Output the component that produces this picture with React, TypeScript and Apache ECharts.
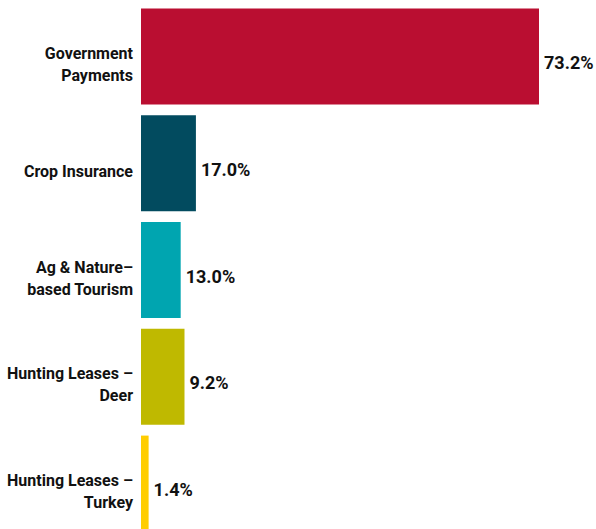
import React, { useEffect, useRef } from "react";
import * as echarts from "echarts";

const categories = [
  "Government\nPayments",
  "Crop Insurance",
  "Ag & Nature–\nbased Tourism",
  "Hunting Leases –\nDeer",
  "Hunting Leases –\nTurkey",
];
// bar lengths as drawn in the picture (scale: 73.2 = full bar)
const barValues = [73.2, 10.1, 7.3, 8.0, 1.4];
// printed value labels
const valueLabels = ["73.2%", "17.0%", "13.0%", "9.2%", "1.4%"];
const colors = ["#BA0E31", "#024B5F", "#00A5B0", "#BFB900", "#FFCD00"];

const FONT = "Roboto, 'DejaVu Sans Condensed', sans-serif";

export default function App() {
  const ref = useRef<HTMLDivElement>(null);
  useEffect(() => {
    document.body.style.margin = "0";
    const chart = echarts.init(ref.current!, undefined, { renderer: "svg" });
    const gridBase = { left: 141, width: 398, height: 534, containLabel: false, outerBoundsMode: "none" };
    chart.setOption({
      animation: false,
      grid: [
        { ...gridBase, top: 3 },
        { ...gridBase, top: 11 },
      ],
      xAxis: [
        { type: "value", min: 0, max: 73.2, show: false, gridIndex: 0 },
        { type: "value", min: 0, max: 73.2, show: false, gridIndex: 1 },
      ],
      yAxis: [
        {
          type: "category",
          gridIndex: 0,
          inverse: true,
          data: categories,
          axisLine: { show: false },
          axisTick: { show: false },
          splitLine: { show: false },
          axisLabel: { show: false },
        },
        {
          type: "category",
          gridIndex: 1,
          inverse: true,
          data: categories,
          axisLine: { show: false },
          axisTick: { show: false },
          splitLine: { show: false },
          axisLabel: {
            margin: 8,
            color: "#111",
            fontFamily: FONT,
            fontWeight: "bold",
            fontSize: 16,
            lineHeight: 22,
            align: "right",
          },
        },
      ],
      series: [
        {
          type: "bar",
          xAxisIndex: 0,
          yAxisIndex: 0,
          barWidth: 96,
          data: barValues.map((v, i) => ({ value: v, itemStyle: { color: colors[i] } })),
          label: {
            show: true,
            position: "right",
            distance: 5,
            offset: [0, 6],
            color: "#111",
            fontFamily: FONT,
            fontWeight: "bold",
            fontSize: 18,
            formatter: (p: any) => valueLabels[p.dataIndex],
          },
        },
      ],
    });
    return () => chart.dispose();
  }, []);
  return <div ref={ref} style={{ width: 596, height: 529 }} />;
}
